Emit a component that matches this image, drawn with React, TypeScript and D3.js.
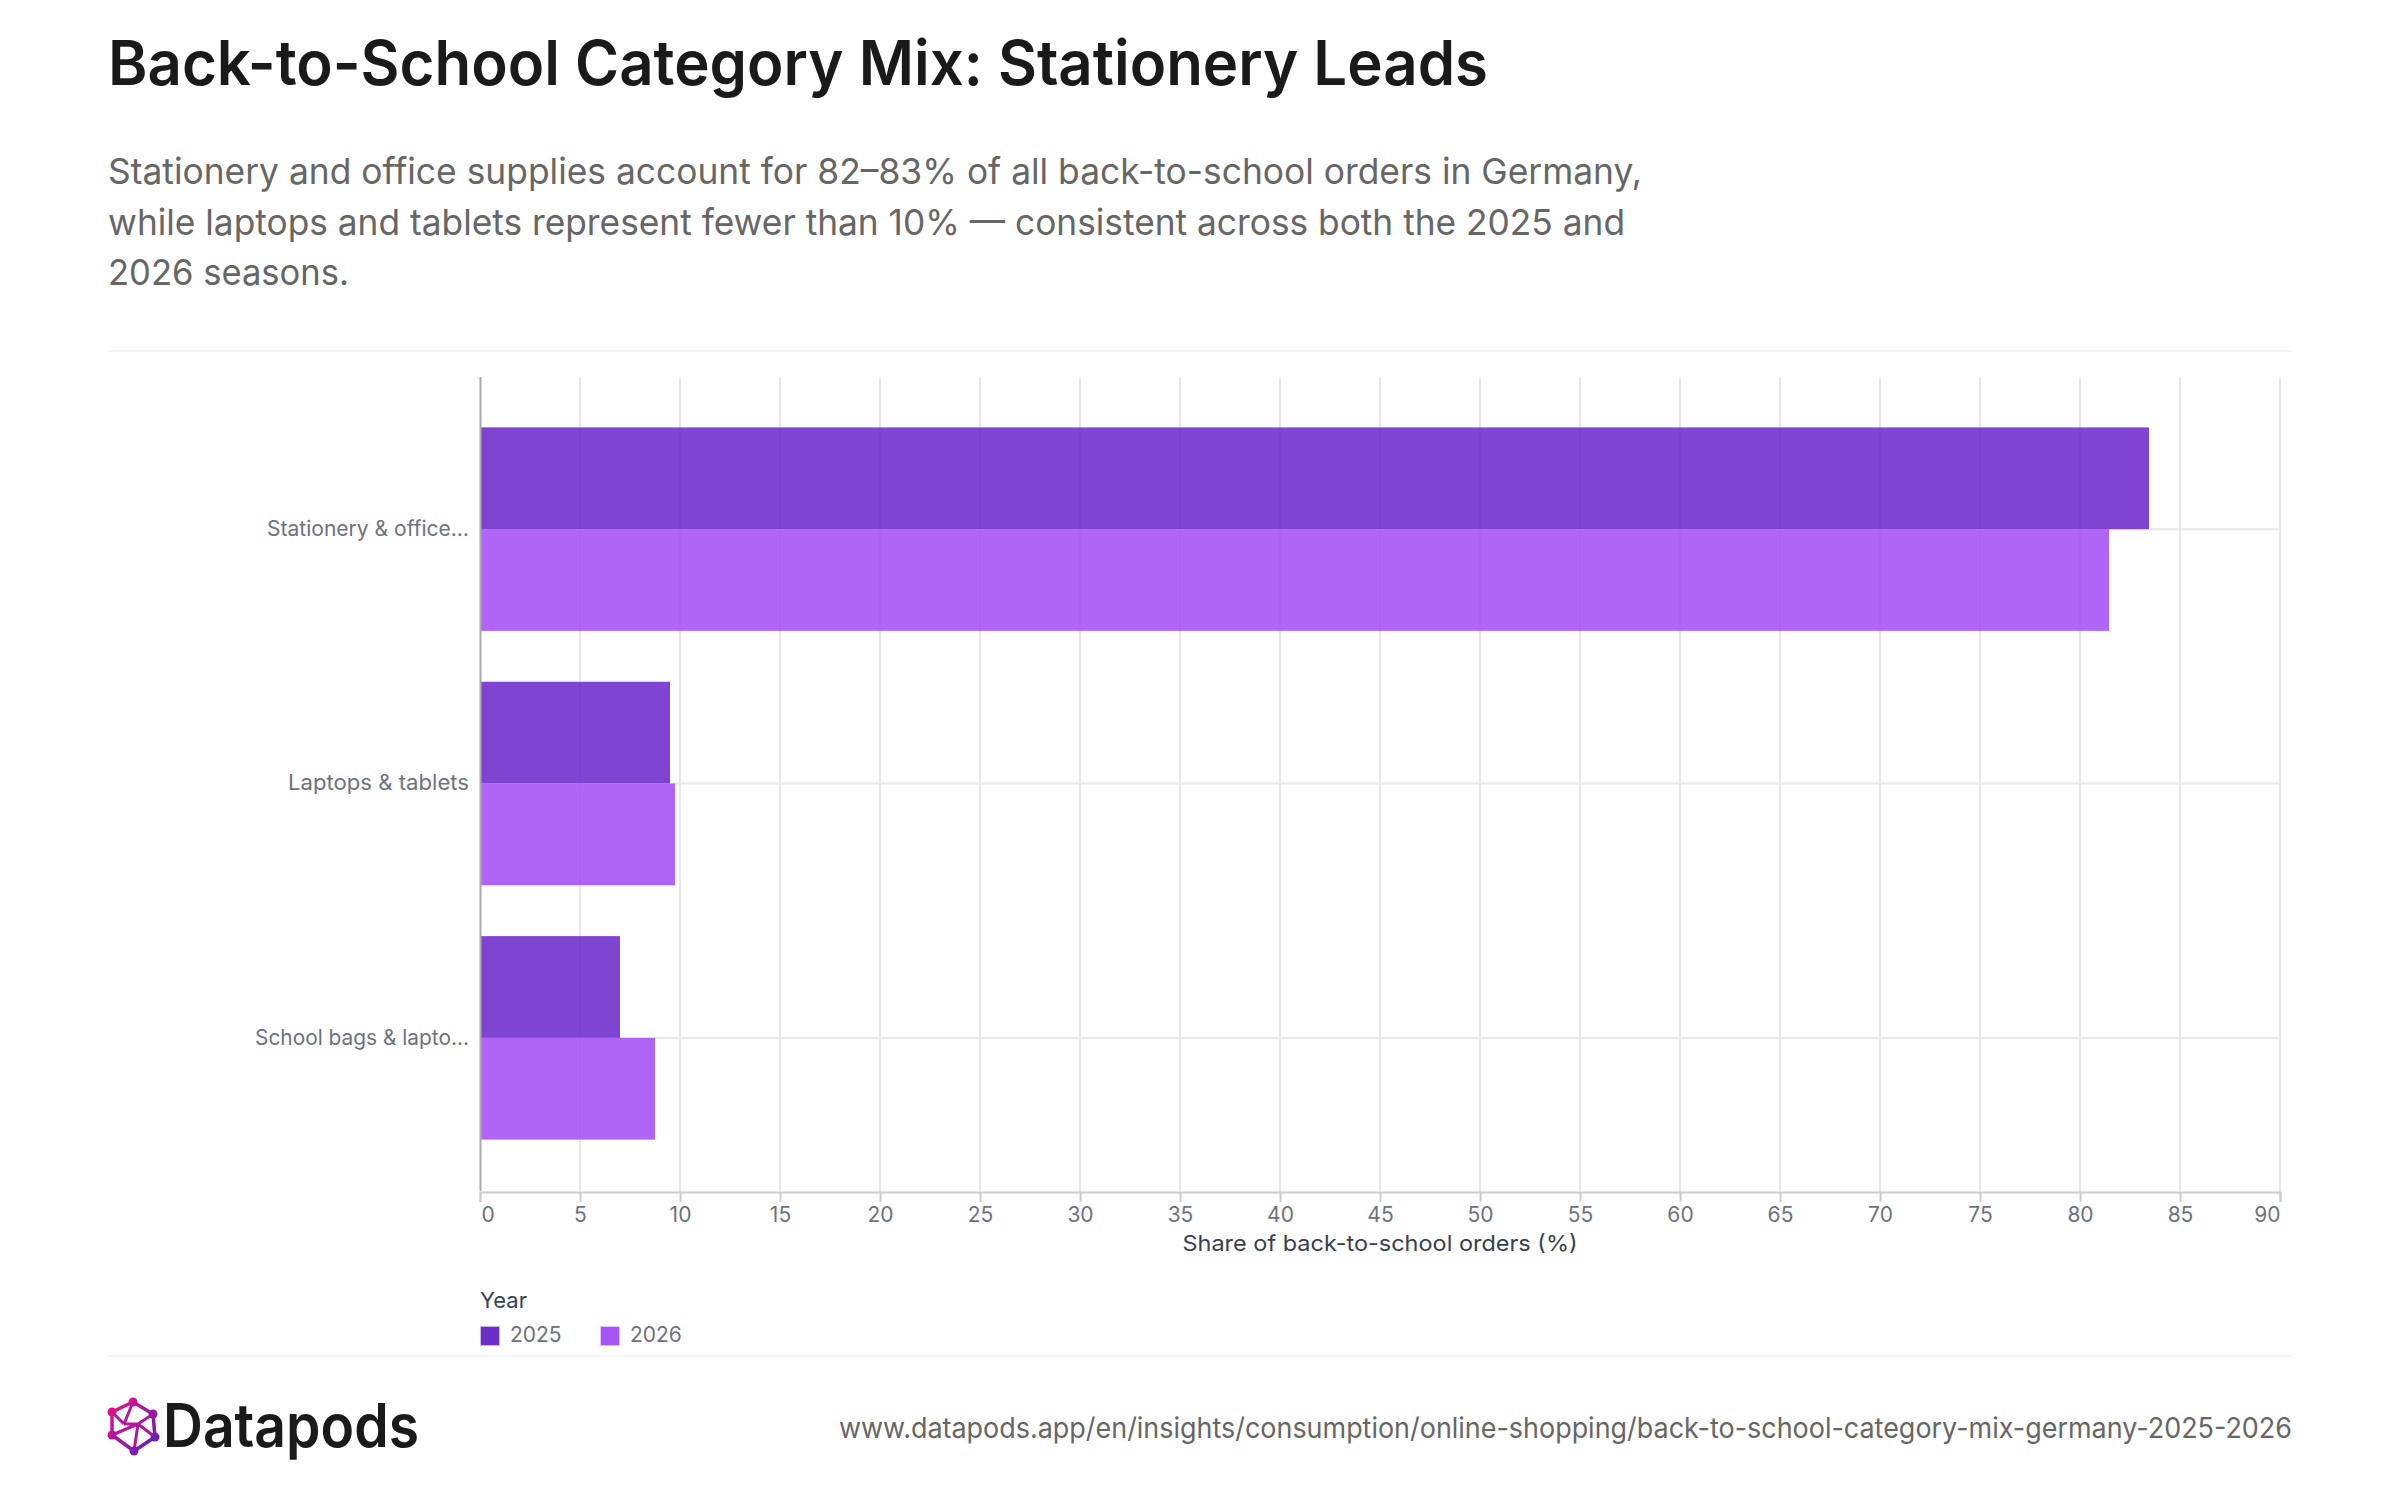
import { useEffect, useRef } from "react";
import * as d3 from "d3";

const categories = ["Stationery & office…", "Laptops & tablets", "School bags & lapto…"];
const categoryLabelWidths = [202, 181, 214];
const years = ["2025", "2026"];
const values2025 = [83.45, 9.5, 7.0];
const values2026 = [81.45, 9.75, 8.75];
const xTicks = d3.range(0, 95, 5);

const title = "Back-to-School Category Mix: Stationery Leads";
const subtitle = [
  "Stationery and office supplies account for 82–83% of all back-to-school orders in Germany,",
  "while laptops and tablets represent fewer than 10% — consistent across both the 2025 and",
  "2026 seasons.",
];
const url = "www.datapods.app/en/insights/consumption/online-shopping/back-to-school-category-mix-germany-2025-2026";

const FONT = "Inter, 'Noto Sans', sans-serif";
const barColors = ["#6824ca", "#a24af6"];
const swatchColors = ["#6d2dcb", "#a855f7"];

const logoNodes: [number, number][] = [
  [133, 1402], [153, 1414], [155, 1437], [134, 1451], [112, 1435], [112, 1412],
];
const logoInner: [number, number, number, number][] = [
  [133, 1402, 124, 1424], [112, 1412, 124, 1424], [124, 1424, 138, 1424],
  [138, 1424, 155, 1437], [138, 1424, 134, 1451], [138, 1424, 112, 1435], [153, 1414, 138, 1424],
];

const App = () => {
  const svgRef = useRef<SVGSVGElement | null>(null);

  useEffect(() => {
    if (!svgRef.current) return;
    const svg = d3.select(svgRef.current);
    svg.selectAll("*").remove();

    const plot = { left: 480, right: 2280, top: 377, bottom: 1192 };

    const x = d3.scaleLinear().domain([0, 90]).range([plot.left, plot.right]);
    const y = d3
      .scaleBand<string>()
      .domain(categories)
      .range([plot.top - 0.5, plot.bottom - 1.5])
      .paddingInner(0.2)
      .paddingOuter(0.2);
    const yInner = d3.scaleBand<string>().domain(years).range([0, y.bandwidth()]);

    const addText = (
      str: string,
      px: number,
      py: number,
      size: number,
      fill: string,
      weight = 400,
      anchor = "start",
      length?: number
    ) => {
      const t = svg
        .append("text")
        .attr("x", px)
        .attr("y", py)
        .attr("font-family", FONT)
        .attr("font-size", size)
        .attr("font-weight", weight)
        .attr("fill", fill)
        .attr("text-anchor", anchor)
        .text(str);
      if (length) t.attr("textLength", length).attr("lengthAdjust", "spacingAndGlyphs");
      return t;
    };

    addText(title, 108, 85, 62, "#1a1a1a", 600, "start", 1380);
    addText(subtitle[0], 108, 184, 36, "#666666", 400, "start", 1534);
    addText(subtitle[1], 108, 235, 36, "#666666", 400, "start", 1517);
    addText(subtitle[2], 108, 285, 36, "#666666", 400, "start", 241);

    // separators
    [351, 1356].forEach((yy) => {
      svg
        .append("line")
        .attr("x1", 108)
        .attr("x2", 2292)
        .attr("y1", yy)
        .attr("y2", yy)
        .attr("stroke", "#f3f3f3")
        .attr("stroke-width", 2);
    });

    // grid
    const grid = svg.append("g").attr("stroke", "#e5e5e5").attr("stroke-width", 2).attr("opacity", 0.85);
    grid
      .selectAll("line.v")
      .data(xTicks.slice(1))
      .join("line")
      .attr("x1", (d) => x(d))
      .attr("x2", (d) => x(d))
      .attr("y1", plot.top)
      .attr("y2", plot.bottom);
    grid
      .selectAll("line.h")
      .data(categories)
      .join("line")
      .attr("x1", plot.left)
      .attr("x2", plot.right)
      .attr("y1", (d) => y(d)! + y.bandwidth() / 2)
      .attr("y2", (d) => y(d)! + y.bandwidth() / 2);

    // bars
    [values2025, values2026].forEach((vals, i) => {
      svg
        .append("g")
        .selectAll("rect")
        .data(vals)
        .join("rect")
        .attr("x", x(0))
        .attr("y", (_, k) => y(categories[k])! + yInner(years[i])!)
        .attr("width", (d) => x(d) - x(0))
        .attr("height", yInner.bandwidth())
        .attr("fill", barColors[i])
        .attr("fill-opacity", 0.85);
    });

    // x axis
    const axisX = svg
      .append("g")
      .attr("transform", `translate(0, ${plot.bottom})`)
      .call(d3.axisBottom(x).tickValues(xTicks).tickSize(10).tickPadding(5).tickFormat(d3.format("d")));
    axisX.select(".domain").attr("stroke", "#cccccc").attr("stroke-width", 2);
    axisX.selectAll(".tick line").attr("stroke", "#cccccc").attr("stroke-width", 2);
    axisX
      .selectAll<SVGTextElement, number>(".tick text")
      .attr("fill", "#6b7280")
      .attr("font-family", FONT)
      .attr("font-size", 21)
      .attr("dx", (d) => (d === 0 ? 1 : 0))
      .attr("text-anchor", (d) => (d === 0 ? "start" : d === 90 ? "end" : "middle"));

    // y axis
    const axisY = svg
      .append("g")
      .attr("transform", `translate(${plot.left}, 0)`)
      .call(d3.axisLeft(y).tickSize(0).tickPadding(11));
    axisY.select(".domain").attr("stroke", "#aaaaaa").attr("stroke-width", 2);
    axisY
      .selectAll<SVGTextElement, string>(".tick text")
      .attr("fill", "#6b7280")
      .attr("font-family", FONT)
      .attr("font-size", 21)
      .attr("textLength", (d) => categoryLabelWidths[categories.indexOf(d)])
      .attr("lengthAdjust", "spacingAndGlyphs");

    addText("Share of back-to-school orders (%)", x(45), 1251, 22, "#374151", 400, "middle", 395);

    // legend
    addText("Year", 480, 1308, 22, "#374151");
    [480, 600].forEach((lx, i) => {
      svg
        .append("rect")
        .attr("x", lx + 1)
        .attr("y", 1327)
        .attr("width", 18)
        .attr("height", 18)
        .attr("fill", swatchColors[i])
        .attr("stroke", swatchColors[i])
        .attr("stroke-opacity", 0.35)
        .attr("stroke-width", 2);
      addText(years[i], lx + 30, 1342, 21, "#6b7280");
    });

    // footer
    const defs = svg.append("defs");
    const grad = defs
      .append("linearGradient")
      .attr("id", "logoGrad")
      .attr("gradientUnits", "userSpaceOnUse")
      .attr("x1", 110)
      .attr("y1", 1405)
      .attr("x2", 157)
      .attr("y2", 1450);
    grad.append("stop").attr("offset", "0%").attr("stop-color", "#e6108a");
    grad.append("stop").attr("offset", "100%").attr("stop-color", "#5b21b6");

    const logo = svg.append("g");
    const hexLine = d3.line().curve(d3.curveLinearClosed);
    logo
      .append("path")
      .attr("d", hexLine(logoNodes))
      .attr("fill", "none")
      .attr("stroke", "url(#logoGrad)")
      .attr("stroke-width", 3.5);
    logo
      .append("path")
      .attr("d", logoInner.map((s) => `M${s[0]},${s[1]}L${s[2]},${s[3]}`).join(""))
      .attr("stroke", "#b0189f")
      .attr("stroke-width", 3);
    logo
      .selectAll("circle")
      .data(logoNodes)
      .join("circle")
      .attr("cx", (d) => d[0])
      .attr("cy", (d) => d[1])
      .attr("r", 4.5)
      .attr("fill", "url(#logoGrad)");

    addText("Datapods", 163, 1447, 60, "#1a1a1a", 600, "start", 256);
    addText(url, 2292, 1438, 28, "#666666", 400, "end", 1453);
  }, []);

  return (
    <svg
      ref={svgRef}
      width={2400}
      height={1500}
      viewBox="0 0 2400 1500"
      style={{ position: "absolute", left: 0, top: 0, display: "block", background: "#ffffff" }}
    />
  );
};

export default App;
